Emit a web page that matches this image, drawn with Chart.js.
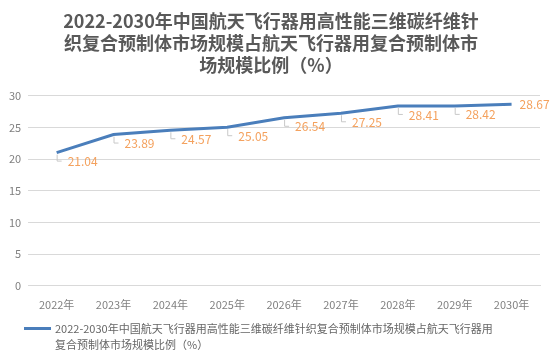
<!DOCTYPE html>
<html>
<head>
<meta charset="utf-8">
<script src="https://cdn.jsdelivr.net/npm/chart.js@4/dist/chart.umd.min.js"></script>
<style>
  html, body { margin: 0; padding: 0; background: #fff; }
  #wrap { position: relative; width: 555px; height: 363px; }
  #legend {
    position: absolute; left: 24px; top: 320px; width: 470px;
    font-family: "Noto Sans CJK SC", sans-serif; font-size: 11px; line-height: 16px; color: #666;
  }
  #legend .swatch {
    position: absolute; left: 0; top: 7px; width: 27px; height: 3px; background: #4a7ebb;
  }
  #legend .txt { margin-left: 31px; }
</style>
</head>
<body>
<div id="wrap">
  <canvas id="c" width="555" height="363"></canvas>
  <div id="legend"><span class="swatch"></span><div class="txt" id="legendText"></div></div>
</div>
<script>
// 数据
const years = ['2022年', '2023年', '2024年', '2025年', '2026年', '2027年', '2028年', '2029年', '2030年'];
const ratio = [21.04, 23.89, 24.57, 25.05, 26.54, 27.25, 28.41, 28.42, 28.67];
const titleLines = [
    '2022-2030年中国航天飞行器用高性能三维碳纤维针',
    '织复合预制体市场规模占航天飞行器用复合预制体市',
    '场规模比例（%）'
];
const seriesName = '2022-2030年中国航天飞行器用高性能三维碳纤维针织复合预制体市场规模占航天飞行器用复合预制体市场规模比例（%）';

document.getElementById('legendText').textContent = seriesName;

// 数据标签 + 引导线
const labelPlugin = {
    id: 'pointLabels',
    afterDatasetsDraw(chart) {
        const ctx = chart.ctx;
        const meta = chart.getDatasetMeta(0);
        ctx.save();
        ctx.font = '12px "Noto Sans CJK SC", sans-serif';
        ctx.textBaseline = 'middle';
        ctx.textAlign = 'left';
        meta.data.forEach((pt, i) => {
            const v = ratio[i].toFixed(2);
            if (i === meta.data.length - 1) {
                ctx.fillStyle = '#F4A15D';
                ctx.fillText(v, pt.x + 8, pt.y);
                return;
            }
            ctx.strokeStyle = '#c8c8c8';
            ctx.lineWidth = 1;
            ctx.beginPath();
            ctx.moveTo(pt.x + 0.5, pt.y + 2);
            ctx.lineTo(pt.x + 0.5, pt.y + 8.5);
            ctx.lineTo(pt.x + 5, pt.y + 8.5);
            ctx.stroke();
            ctx.fillStyle = '#F4A15D';
            ctx.fillText(v, pt.x + 11, pt.y + 9);
        });
        ctx.restore();
    }
};

new Chart(document.getElementById('c'), {
    type: 'line',
    data: {
        labels: years,
        datasets: [{
            label: seriesName,
            data: ratio,
            borderColor: '#4a7ebb',
            borderWidth: 3,
            pointRadius: 0,
            tension: 0,
            fill: false
        }]
    },
    options: {
        responsive: false,
        animation: false,
        layout: { padding: { left: 2, right: 15, top: 6, bottom: 48 } },
        plugins: {
            legend: { display: false },
            tooltip: { enabled: false },
            title: {
                display: true,
                text: titleLines,
                color: '#595959',
                font: { family: '"Noto Sans CJK SC", sans-serif', size: 18, weight: 'bold', lineHeight: 1.22 },
                padding: { top: 4, bottom: 20 }
            }
        },
        scales: {
            x: {
                offset: true,
                grid: { display: false },
                border: { color: '#d9d9d9' },
                ticks: { color: '#808080', font: { family: '"Noto Sans CJK SC", sans-serif', size: 11 }, maxRotation: 0, padding: 4 },
            },
            y: {
                min: 0,
                max: 30,
                ticks: { stepSize: 5, color: '#808080', font: { family: '"Noto Sans CJK SC", sans-serif', size: 11 }, padding: 7 },
                grid: { color: '#d9d9d9', drawTicks: false },
                border: { display: false }
            }
        }
    },
    plugins: [labelPlugin]
});
</script>
</body>
</html>
